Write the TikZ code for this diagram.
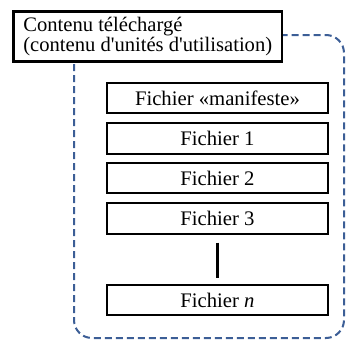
\documentclass[tikz,border=0pt]{standalone}
\usepackage{fontspec}
\setmainfont{Liberation Serif}[Ligatures=TeXOff]
\definecolor{dashblue}{HTML}{3C5E96}
\begin{document}
\begin{tikzpicture}[x=1pt,y=-1pt,
  filebox/.style={draw=black, line width=1.6pt, fill=white,
    minimum width=221pt, minimum height=30.5pt, inner sep=0pt,
    font=\fontsize{20.7}{22}\selectfont},
  headbox/.style={draw=black, line width=2.6pt, fill=white,
    minimum height=50pt, inner xsep=10pt, inner ysep=0pt, align=left,
    font=\fontsize{20.6}{19.5}\selectfont},
  groupline/.style={draw=dashblue, line width=2pt, dash pattern=on 7pt off 4pt,
    rounded corners=18pt}]
\useasboundingbox (0,0) rectangle (348,340);

% dashed outline of the downloaded content group
\path[groupline] (74,35) rectangle (344,338);

% header label sitting on the group's top-left corner
\node[headbox, anchor=north west] (head) at (12,10)
  {Contenu téléchargé\\(contenu d'unités d'utilisation)};

% the files of the package
\node[filebox] (man) at (217.5,98)  {Fichier «manifeste»};
\node[filebox] (f1)  at (217.5,138.5) {Fichier 1};
\node[filebox] (f2)  at (217.5,178) {Fichier 2};
\node[filebox] (f3)  at (217.5,218.5) {Fichier 3};
\node[filebox] (fn)  at (217.5,300) {Fichier \textit{n}};

% ellipsis bar between file 3 and file n
\draw[line width=2.6pt, shorten <=8pt, shorten >=6pt] (f3.south) -- (fn.north);
\end{tikzpicture}
\end{document}
